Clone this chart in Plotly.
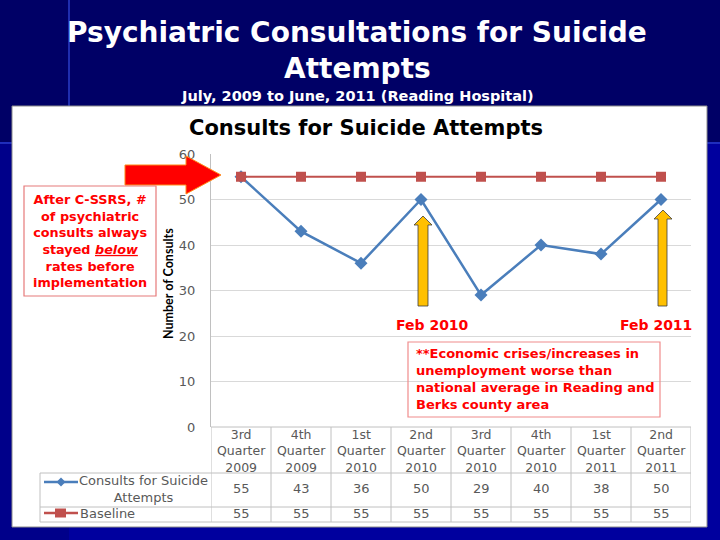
import plotly.graph_objects as go

# ---------------- data ----------------
categories = ["3rd Quarter 2009", "4th Quarter 2009", "1st Quarter 2010", "2nd Quarter 2010",
              "3rd Quarter 2010", "4th Quarter 2010", "1st Quarter 2011", "2nd Quarter 2011"]
consults = [55, 43, 36, 50, 29, 40, 38, 50]
baseline = [55, 55, 55, 55, 55, 55, 55, 55]
y_ticks = [0, 10, 20, 30, 40, 50, 60]
series_names = ["Consults for Suicide Attempts", "Baseline"]

# ---------------- geometry helpers (pixel -> paper) ----------------
W, H = 720, 540
L, R, T, B = 211, 29, 154, 113
PW = W - L - R
PH = H - T - B


def px(x):
    return (x - L) / PW


def py(y):
    return (H - B - y) / PH


def path(points):
    s = "M " + " L ".join(f"{px(x):.5f},{py(y):.5f}" for x, y in points) + " Z"
    return s


BLUE = "#4a7ebb"
RED = "#c0504d"
GRAY_TXT = "#595959"
GRID = "#d9d9d9"
TBL = "#c0c0c0"
SLIDE_FONT = "DejaVu Sans"
CHART_FONT = "DejaVu Sans"

fig = go.Figure()

fig.add_trace(go.Scatter(
    x=categories, y=consults, mode="lines+markers", name=series_names[0],
    line=dict(color=BLUE, width=2.5),
    marker=dict(symbol="diamond", size=10, color=BLUE),
    cliponaxis=False, showlegend=False,
))
fig.add_trace(go.Scatter(
    x=categories, y=baseline, mode="lines+markers", name=series_names[1],
    line=dict(color=RED, width=2.2),
    marker=dict(symbol="square", size=10, color=RED),
    cliponaxis=False, showlegend=False,
))

shapes = []
# slide background pieces
shapes.append(dict(type="rect", xref="paper", yref="paper", layer="below",
                   x0=px(0), x1=px(720), y0=py(0), y1=py(142),
                   fillcolor="#000066", line=dict(width=0)))
shapes.append(dict(type="rect", xref="paper", yref="paper", layer="below",
                   x0=px(0), x1=px(69), y0=py(143), y1=py(540),
                   fillcolor="#00008a", line=dict(width=0)))
shapes.append(dict(type="line", xref="paper", yref="paper", layer="below",
                   x0=px(69), x1=px(69), y0=py(0), y1=py(142),
                   line=dict(color="#2a3cc8", width=1.5)))
shapes.append(dict(type="line", xref="paper", yref="paper", layer="below",
                   x0=px(0), x1=px(720), y0=py(143), y1=py(143),
                   line=dict(color="#2a3cc8", width=1.5)))
# white chart panel
shapes.append(dict(type="rect", xref="paper", yref="paper", layer="below",
                   x0=px(12), x1=px(707), y0=py(106), y1=py(527),
                   fillcolor="#ffffff", line=dict(color="#8c8c8c", width=1)))

# data table grid
ncat = len(categories)
for i in range(ncat + 1):
    shapes.append(dict(type="line", xref="x", yref="paper", layer="above",
                       x0=i - 0.5, x1=i - 0.5, y0=py(427), y1=py(522),
                       line=dict(color=TBL, width=1)))
shapes.append(dict(type="line", xref="x", yref="paper", layer="above",
                   x0=-0.5, x1=ncat - 0.5, y0=py(427), y1=py(427),
                   line=dict(color=TBL, width=1)))
for yy in (473, 507, 522):
    shapes.append(dict(type="line", xref="paper", yref="paper", layer="above",
                       x0=px(40), x1=px(691), y0=py(yy), y1=py(yy),
                       line=dict(color=TBL, width=1)))
shapes.append(dict(type="line", xref="paper", yref="paper", layer="above",
                   x0=px(40), x1=px(40), y0=py(473), y1=py(522),
                   line=dict(color=TBL, width=1)))

# legend keys inside the table
shapes.append(dict(type="line", xref="paper", yref="paper", layer="above",
                   x0=px(44), x1=px(78), y0=py(482), y1=py(482),
                   line=dict(color=BLUE, width=2.5)))
shapes.append(dict(type="path", xref="paper", yref="paper", layer="above",
                   path=path([(61, 477.5), (65.5, 482), (61, 486.5), (56.5, 482)]),
                   fillcolor=BLUE, line=dict(width=0)))
shapes.append(dict(type="line", xref="paper", yref="paper", layer="above",
                   x0=px(44), x1=px(78), y0=py(513), y1=py(513),
                   line=dict(color=RED, width=2.5)))
shapes.append(dict(type="rect", xref="paper", yref="paper", layer="above",
                   x0=px(55), x1=px(66), y0=py(508.5), y1=py(517.5),
                   fillcolor=RED, line=dict(width=0)))

# red block arrow
shapes.append(dict(type="path", xref="paper", yref="paper", layer="above",
                   path=path([(125, 165), (186, 165), (186, 156), (221, 175),
                              (186, 194), (186, 185), (125, 185)]),
                   fillcolor="#ff0000", line=dict(color="#ff8c1a", width=1)))
# yellow up arrows
shapes.append(dict(type="path", xref="paper", yref="paper", layer="above",
                   path=path([(418, 306), (418, 225), (414, 225), (423, 216),
                              (432, 225), (428, 225), (428, 306)]),
                   fillcolor="#ffc000", line=dict(color="#3c3c3c", width=0.8)))
shapes.append(dict(type="path", xref="paper", yref="paper", layer="above",
                   path=path([(658, 306), (658, 219), (654, 219), (663, 210),
                              (672, 219), (667, 219), (667, 306)]),
                   fillcolor="#ffc000", line=dict(color="#3c3c3c", width=0.8)))
# text boxes
shapes.append(dict(type="rect", xref="paper", yref="paper", layer="above",
                   x0=px(24), x1=px(156), y0=py(186), y1=py(296),
                   line=dict(color="#e67a7a", width=1.2)))
shapes.append(dict(type="rect", xref="paper", yref="paper", layer="above",
                   x0=px(408), x1=px(660), y0=py(342), y1=py(417),
                   line=dict(color="#f08c8c", width=1.2)))

ann = []


def text(x, y, s, size, color, family, xanchor="center", yanchor="middle", align="center", angle=0):
    ann.append(dict(x=px(x), y=py(y), xref="paper", yref="paper", text=s, showarrow=False,
                    xanchor=xanchor, yanchor=yanchor, align=align, textangle=angle,
                    font=dict(size=size, color=color, family=family)))


# slide titles
text(357, 32, "<b>Psychiatric Consultations for Suicide</b>", 28, "#ffffff", SLIDE_FONT)
text(357, 68, "<b>Attempts</b>", 28, "#ffffff", SLIDE_FONT)
text(357, 96, "<b>July, 2009 to June, 2011 (Reading Hospital)</b>", 14.5, "#ffffff", SLIDE_FONT)
# chart title
text(366, 128, "<b>Consults for Suicide Attempts</b>", 21, "#000000", CHART_FONT)
# y axis title
text(168, 284, "<b>Number of Consults</b>", 12.5, "#000000",
     "Liberation Sans Narrow, Lato", angle=-90)
# callouts
text(90, 240.5, "<b>After C-SSRS, #<br>of psychiatric<br>consults always<br>stayed <i><u>below</u></i>"
     "<br>rates before<br>implementation</b>", 12.8, "#ff0000", SLIDE_FONT)
text(414, 379, "<b>**Economic crises/increases in<br>unemployment worse than<br>"
     "national average in Reading and<br>Berks county area</b>", 13, "#ff0000", SLIDE_FONT,
     xanchor="left", align="left")
text(432, 325, "<b>Feb 2010</b>", 14, "#ff0000", SLIDE_FONT)
text(656, 325, "<b>Feb 2011</b>", 14, "#ff0000", SLIDE_FONT)

# legend texts in table
name_words = series_names[0].split(" ")
text(143, 489, " ".join(name_words[:-1]) + "<br>" + name_words[-1], 13, GRAY_TXT, CHART_FONT)
text(78, 513, series_names[1], 13, GRAY_TXT, CHART_FONT, xanchor="left")

# table header (category labels) and values, placed on the category axis
for c in categories:
    ann.append(dict(x=c, y=py(450.5), xref="x", yref="paper", text="<br>".join(c.split(" ")),
                    showarrow=False, xanchor="center", yanchor="middle", align="center",
                    font=dict(size=12.5, color=GRAY_TXT, family=CHART_FONT)))
for c, v in zip(categories, consults):
    ann.append(dict(x=c, y=py(488), xref="x", yref="paper", text=str(v), showarrow=False,
                    xanchor="center", yanchor="middle",
                    font=dict(size=13, color=GRAY_TXT, family=CHART_FONT)))
for c, v in zip(categories, baseline):
    ann.append(dict(x=c, y=py(513.5), xref="x", yref="paper", text=str(v), showarrow=False,
                    xanchor="center", yanchor="middle",
                    font=dict(size=13, color=GRAY_TXT, family=CHART_FONT)))

fig.update_layout(
    width=W, height=H, autosize=False,
    margin=dict(l=L, r=R, t=T, b=B, pad=0),
    paper_bgcolor="#00009e", plot_bgcolor="rgba(0,0,0,0)",
    shapes=shapes, annotations=ann, showlegend=False,
    xaxis=dict(type="category", categoryarray=categories, range=[-0.5, ncat - 0.5],
               showticklabels=False, showgrid=False, zeroline=False, showline=False,
               ticks="", fixedrange=True),
    yaxis=dict(range=[0, 60], tickvals=y_ticks, showgrid=True, gridcolor=GRID, gridwidth=1,
               zeroline=False, showline=True, linecolor=TBL, linewidth=1, ticks="",
               ticklabelstandoff=12,
               tickfont=dict(size=13, color=GRAY_TXT, family=CHART_FONT), fixedrange=True),
)

fig.write_html("out.html", config={"displayModeBar": False},
               post_script="document.body.style.margin='0';document.body.style.padding='0';")
